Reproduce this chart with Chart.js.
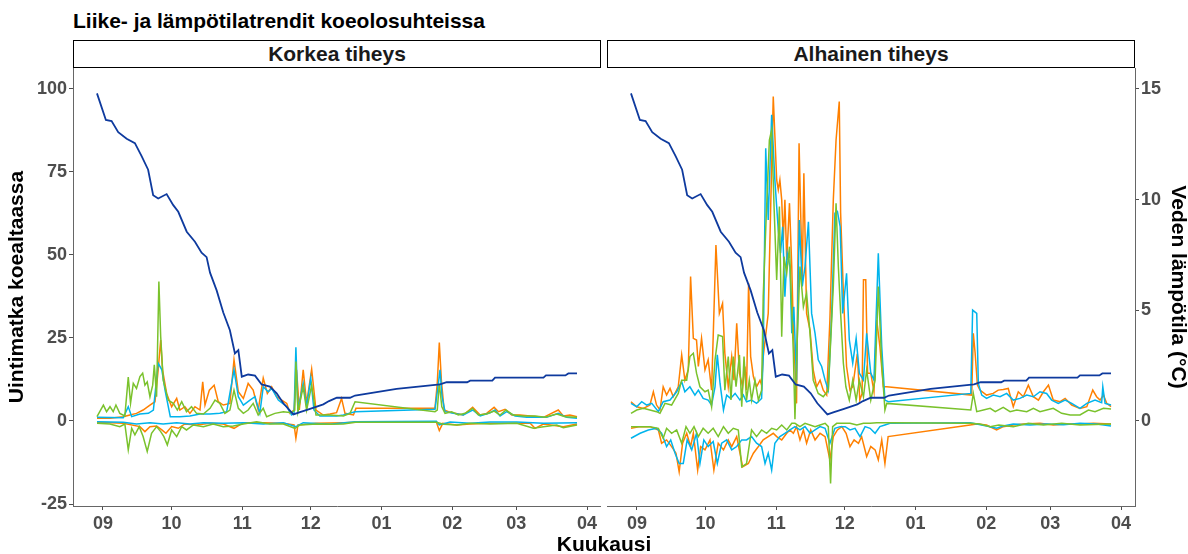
<!DOCTYPE html>
<html>
<head>
<meta charset="utf-8">
<script src="https://cdn.jsdelivr.net/npm/chart.js@4.4.1/dist/chart.umd.min.js"></script>
<style>
  body { margin: 0; background: #fff; width: 1188px; height: 554px; position: relative; overflow: hidden;
         font-family: 'Liberation Sans', Arial, sans-serif; }
  .title { position: absolute; left: 73px; top: 9px; font-size: 21px; font-weight: bold; color: #000;
           line-height: 24px; white-space: nowrap; }
  .strip { position: absolute; top: 40px; height: 28px; width: 528px; box-sizing: border-box;
           border: 1.5px solid #000; text-align: center; font-size: 21px; font-weight: bold;
           line-height: 25px; color: #1a1a1a; }
  canvas { position: absolute; top: 68px; }
  .xtitle { position: absolute; left: 504px; width: 200px; top: 532px; text-align: center;
            font-size: 21px; font-weight: bold; line-height: 24px; color: #000; }
</style>
</head>
<body>
<div class="title">Liike- ja lämpötilatrendit koeolosuhteissa</div>
<div class="strip" style="left:73px">Korkea tiheys</div>
<div class="strip" style="left:607px">Alhainen tiheys</div>
<canvas id="panelHigh" width="601" height="486" style="left:0"></canvas>
<canvas id="panelLow" width="581" height="486" style="left:607px"></canvas>
<div class="xtitle">Kuukausi</div>

<script>
/* ── Data (x = days since 1 Sep, y = distance / °C) ── */
const monthTickDays = [0, 30, 61, 91, 122, 153, 181, 212];
const monthTickLabels = ['09', '10', '11', '12', '01', '02', '03', '04'];
const leftTicks = [-25, 0, 25, 50, 75, 100];
const rightTicks = [0, 5, 10, 15];

// water temperature, same logger for both tanks
const tempC = [[-2.6,14.8],[1.3,13.6],[3.8,13.55],[6.7,13.05],[10.4,12.75],[14.0,12.55],[17.0,11.95],[19.8,11.35],
  [22.0,10.2],[24.2,10.05],[27.9,10.25],[30.8,9.75],[33.0,9.45],[36.7,8.55],[40.3,8.1],[43.2,7.6],[45.4,7.4],
  [46.9,6.7],[49.8,5.9],[52.7,4.9],[55.6,4.1],[57.8,3.05],[59.3,3.2],[60.8,2.0],[63.6,2.1],[66.6,2.05],[69.5,1.65],
  [73.1,1.55],[76.1,1.25],[79.0,0.8],[83.4,0.3],[86.3,0.4],[90.7,0.55],[96.5,0.75],[99.0,0.9],[102.4,1.05],
  [108.2,1.05],[110.4,1.15],[128.6,1.45],[147.6,1.65],[150.5,1.75],[159.5,1.75],[160.8,1.82],[170.5,1.82],
  [171.7,1.96],[192.9,1.96],[194.0,2.06],[202.5,2.06],[203.8,2.15],[207.6,2.15]];

// Korkea tiheys
const hiOrangeUp = [[-2.6,0.8],[3.1,0.8],[8.9,1.3],[11.8,1.8],[14.7,2.3],[17.6,3.3],[20.6,4.8],[22.8,5.8],[24.2,15.4],
  [25.3,24.4],[26.1,15.4],[27.9,8.3],[30.1,4.3],[32.3,6.8],[33.7,3.3],[35.9,4.3],[38.1,2.3],[40.3,4.3],[42.5,3.3],
  [43.7,11.8],[44.7,4.8],[46.6,9.3],[48.7,10.8],[50.5,5.8],[52.7,4.8],[55.6,5.3],[57.4,18.4],[59.3,8.8],[61.5,6.8],
  [63.6,11.3],[65.8,9.3],[68.0,3.3],[70.2,12.9],[72.0,8.3],[73.9,10.3],[76.1,7.3],[78.3,6.3],[80.5,5.3],[81.9,2.3],
  [83.7,3.3],[84.8,15.4],[86.0,3.3],[87.7,15.4],[89.2,5.3],[91.4,15.6],[93.3,3.3],[96.5,1.8],[99.4,2.1],[102.3,2.5],
  [104.5,6.8],[106.0,2.3],[109.7,1.8],[110.8,3.8],[145.4,3.8],[146.4,11.3],[147.3,23.6],[148.2,12.3],[149.4,3.3],
  [151.3,2.8],[154.2,2.3],[157.8,1.8],[161.9,4.1],[165.2,1.8],[168.0,2.3],[171.3,4.1],[173.2,2.8],[176.1,3.5],
  [179.0,1.8],[182.7,1.8],[187.1,1.5],[192.9,1.1],[199.4,3.3],[201.6,1.5],[204.5,1.8],[207.6,1.3]];
const hiCyanUp = [[-2.6,1.1],[8.9,1.0],[11.1,4.3],[12.6,1.3],[16.2,2.1],[19.9,2.3],[22.1,3.3],[24.2,17.4],[25.8,15.4],
  [27.2,9.3],[29.5,1.3],[33.7,1.3],[38.1,1.5],[42.5,2.1],[46.9,2.1],[51.2,2.3],[54.2,2.8],[57.4,15.4],[59.3,7.3],
  [61.5,4.8],[64.4,6.3],[66.6,7.3],[68.7,2.3],[70.2,10.3],[72.4,8.8],[73.9,9.8],[76.8,6.3],[80.5,4.3],[82.6,1.8],
  [83.7,2.3],[84.5,22.2],[85.4,3.3],[87.7,11.3],[89.2,4.3],[91.0,12.9],[92.4,3.3],[95.0,1.5],[102.4,1.5],[105.3,1.8],
  [110.4,2.8],[145.4,3.5],[146.9,11.3],[147.6,15.4],[148.5,7.3],[149.8,2.8],[153.5,2.3],[157.8,1.8],[161.9,3.3],
  [165.2,1.5],[169.5,2.5],[171.7,3.3],[173.9,1.5],[176.8,2.8],[180.5,1.5],[185.6,1.1],[190.0,1.1],[194.3,1.1],
  [199.4,2.3],[203.1,1.1],[207.6,0.8]];
const hiGreenUp = [[-2.6,1.3],[0.2,4.8],[1.6,2.8],[3.1,4.3],[4.5,2.8],[5.7,4.8],[7.4,2.3],[9.6,1.5],[11.1,13.2],
  [12.1,5.3],[13.3,11.3],[14.7,9.8],[16.2,13.4],[17.4,14.4],[18.4,10.8],[19.4,11.8],[20.6,7.3],[21.8,10.8],[22.5,16.9],
  [23.5,7.3],[24.5,42.0],[25.3,25.4],[26.4,12.3],[28.6,6.3],[30.8,5.3],[32.6,3.3],[34.5,5.8],[36.6,2.8],[38.8,4.3],
  [41.0,2.3],[44.0,2.1],[46.9,3.8],[49.1,6.3],[51.2,5.3],[53.4,2.3],[55.6,3.3],[57.4,9.3],[59.3,3.8],[61.5,2.3],
  [63.6,3.3],[65.8,5.3],[68.0,1.8],[70.2,3.8],[71.7,1.3],[75.3,2.3],[79.0,2.8],[82.6,2.5],[84.0,3.3],[84.5,17.9],
  [85.4,2.8],[87.7,10.3],[89.2,3.3],[91.4,10.8],[93.3,1.8],[99.4,1.8],[105.3,1.5],[108.2,2.3],[110.4,5.8],[145.4,2.8],
  [146.4,3.3],[147.3,11.3],[148.4,4.3],[149.8,2.3],[152.7,2.8],[155.6,1.8],[158.6,2.3],[161.9,3.8],[164.4,1.8],
  [168.0,2.1],[171.3,3.0],[173.9,1.8],[176.5,3.3],[179.7,1.8],[184.1,1.5],[189.2,1.5],[193.6,1.1],[198.7,2.1],
  [202.4,1.3],[207.6,1.1]];
const hiOrangeDown = [[-2.6,-0.4],[8.9,-0.7],[16.2,-1.7],[18.4,-3.2],[20.6,-1.7],[23.5,-1.5],[25.8,-2.7],[27.6,-3.7],
  [30.1,-1.7],[33.0,-2.2],[35.9,-0.9],[41.0,-1.2],[46.9,-0.7],[52.7,-0.9],[57.4,-2.2],[61.5,-0.5],[70.2,-0.5],
  [79.0,-0.7],[83.7,-1.2],[84.5,-5.2],[85.4,-1.2],[93.3,-0.7],[105.3,-0.5],[113.7,-0.3],[146.0,-0.3],[147.3,-2.9],
  [148.8,-0.7],[155.0,-1.2],[160.8,-0.9],[168.0,-0.7],[175.4,-0.7],[187.1,-0.7],[189.2,-2.2],[192.9,-0.9],
  [201.6,-1.7],[207.6,-0.9]];
const hiCyanDown = [[-2.6,-0.2],[8.9,-0.4],[14.7,-0.9],[20.6,-0.5],[26.4,-0.9],[32.3,-0.5],[38.1,-0.9],[44.0,-0.5],
  [52.7,-0.7],[61.5,-0.5],[70.2,-0.9],[79.0,-0.5],[84.5,-1.7],[87.7,-0.5],[99.4,-1.0],[110.4,-0.2],[146.0,-0.1],
  [147.3,-1.2],[152.0,-0.3],[160.8,-0.7],[169.5,-0.3],[181.2,-0.3],[192.9,-0.7],[207.6,-0.5]];
const hiGreenDown = [[-2.6,-0.7],[3.1,-0.9],[7.4,-1.7],[9.6,-0.9],[11.1,-8.7],[12.6,-2.2],[14.0,-4.2],[15.9,-1.7],
  [17.6,-4.7],[19.4,-9.2],[21.3,-3.7],[23.5,-1.7],[25.3,-3.2],[26.7,-4.7],[28.2,-7.2],[30.1,-2.7],[32.3,-4.7],
  [34.5,-1.7],[36.6,-2.7],[39.6,-1.2],[44.0,-1.7],[48.3,-0.9],[52.7,-1.7],[57.1,-1.5],[61.5,-0.9],[67.3,-0.2],
  [73.1,-0.9],[79.0,-0.9],[84.1,-2.2],[86.3,-1.2],[93.6,-0.9],[99.4,-1.0],[105.3,-0.9],[110.4,-0.4],[146.0,-0.4],
  [149.2,-1.0],[155.0,-1.2],[160.8,-0.7],[169.5,-0.9],[181.2,-0.7],[188.5,-2.2],[192.9,-1.7],[198.7,-1.2],
  [201.6,-2.0],[207.6,-1.2]];

// Alhainen tiheys
const loOrangeUp = [[-2.6,5.8],[-0.1,4.3],[2.8,3.8],[5.7,4.8],[7.2,8.8],[8.6,4.8],[10.1,3.3],[11.5,10.3],[13.0,7.8],
  [14.5,9.8],[15.9,7.3],[18.1,10.3],[19.6,19.9],[21.0,12.3],[22.5,15.4],[23.5,43.5],[24.7,24.9],[26.1,24.4],
  [26.9,16.4],[28.3,24.9],[29.8,15.4],[31.2,18.4],[32.7,9.3],[34.6,53.0],[36.1,32.4],[37.5,35.4],[38.5,20.4],
  [40.0,10.3],[41.5,19.4],[42.5,12.3],[43.7,29.4],[44.9,14.4],[46.3,10.3],[47.3,16.4],[48.0,9.3],[48.9,41.5],
  [49.8,19.4],[51.0,13.4],[52.4,10.3],[53.9,12.3],[54.6,10.8],[55.3,19.4],[57.5,32.4],[59.7,97.7],[61.2,72.6],
  [61.9,69.6],[62.6,72.6],[63.4,66.6],[64.1,54.5],[64.8,66.6],[65.6,48.5],[66.8,65.6],[67.8,46.5],[68.5,27.4],
  [69.9,5.3],[71.0,83.6],[72.4,42.5],[73.1,74.6],[74.3,32.4],[75.8,27.4],[77.2,15.4],[78.7,10.3],[80.2,12.3],
  [81.6,9.3],[83.1,7.8],[84.5,30.4],[86.0,66.6],[87.2,84.6],[88.6,96.2],[89.2,62.6],[90.4,38.5],[91.8,16.4],
  [93.3,9.3],[94.5,10.3],[96.5,20.2],[97.6,6.3],[98.6,8.3],[99.2,42.5],[100.2,42.5],[101.0,14.4],[102.4,14.4],
  [103.8,8.8],[105.0,30.4],[106.4,22.4],[107.9,10.3],[109.4,10.3],[146.6,7.8],[147.3,26.4],[148.1,20.4],[149.1,10.8],
  [150.2,9.3],[153.1,7.8],[156.0,8.3],[158.2,9.3],[160.4,9.5],[162.6,9.8],[164.8,4.3],[167.0,8.8],[169.2,7.3],
  [171.4,10.8],[173.6,7.3],[175.8,6.3],[178.0,8.8],[180.2,10.8],[182.3,6.3],[185.3,5.8],[187.5,6.8],[190.4,4.8],
  [194.0,3.8],[197.0,4.3],[199.6,9.3],[201.3,7.3],[202.8,6.3],[204.3,7.8],[205.7,5.3],[207.6,4.3]];
const loCyanUp = [[-2.6,5.3],[-0.1,4.3],[2.1,5.8],[4.3,4.8],[6.5,5.3],[9.4,2.8],[11.5,5.8],[14.5,6.3],[17.4,8.8],
  [19.6,11.8],[21.0,8.8],[23.2,10.3],[25.4,7.8],[26.9,9.3],[29.0,6.8],[31.2,6.3],[32.7,4.8],[34.2,10.3],[35.2,19.9],
  [36.4,11.3],[37.9,3.3],[39.3,7.8],[41.0,6.8],[43.0,8.3],[45.1,6.3],[46.6,7.8],[48.0,5.8],[50.2,6.3],[52.4,5.3],
  [54.6,6.8],[55.3,19.4],[56.4,82.1],[57.5,60.5],[59.0,92.2],[60.4,72.6],[61.9,57.5],[62.9,50.5],[63.8,58.5],
  [64.8,37.4],[65.8,50.5],[67.0,46.5],[67.8,26.4],[68.7,34.4],[69.9,12.3],[71.1,60.5],[72.4,40.5],[73.6,46.5],
  [75.1,60.0],[76.5,32.4],[78.0,26.4],[79.4,18.4],[80.9,16.4],[82.4,12.3],[83.8,9.3],[85.3,32.4],[86.7,62.6],
  [87.8,63.1],[89.0,58.5],[90.1,32.4],[91.8,44.5],[93.0,24.4],[94.5,17.4],[96.0,24.9],[97.4,14.4],[99.2,12.3],
  [100.6,26.4],[102.4,14.4],[103.8,12.3],[105.7,50.5],[107.2,22.4],[108.6,6.3],[110.1,5.8],[146.2,8.3],[147.0,33.4],
  [148.8,32.4],[149.5,11.3],[151.0,7.8],[153.1,6.8],[156.0,7.8],[159.0,7.3],[161.9,8.3],[164.8,6.3],[167.7,6.8],
  [170.7,7.8],[173.6,7.3],[176.5,8.8],[179.4,8.3],[181.6,6.3],[184.5,5.3],[187.5,6.3],[190.4,5.3],[194.0,3.8],
  [197.0,5.3],[200.6,6.3],[203.5,5.5],[204.0,10.3],[205.0,5.3],[207.6,4.8]];
const loGreenUp = [[-2.6,2.3],[-0.1,3.3],[2.8,3.8],[5.7,3.3],[8.6,2.8],[10.1,2.3],[12.3,5.3],[15.2,4.8],[18.1,8.3],
  [19.6,12.3],[21.8,12.3],[23.2,19.4],[24.7,20.4],[26.1,14.4],[27.6,10.3],[29.8,8.8],[31.2,9.3],[32.7,4.3],[34.2,18.4],
  [35.6,25.9],[37.5,25.4],[38.5,9.3],[40.0,19.4],[41.2,6.3],[42.2,19.4],[43.4,10.3],[44.9,19.9],[45.9,4.3],[46.9,19.4],
  [48.0,6.3],[49.2,12.3],[50.2,6.3],[51.7,12.3],[53.2,6.3],[54.6,9.3],[55.3,37.5],[56.5,59.5],[58.0,84.6],[59.0,87.7],
  [60.0,65.6],[61.2,42.5],[62.4,64.6],[63.4,25.4],[64.4,49.5],[65.6,44.5],[66.8,52.5],[67.8,33.4],[68.5,20.4],
  [69.2,0.5],[70.2,24.4],[71.4,46.5],[72.9,34.4],[74.3,38.5],[75.8,26.4],[77.2,12.3],[79.4,8.3],[81.6,7.3],[83.8,9.3],
  [86.0,40.5],[87.2,65.6],[88.2,46.5],[89.2,32.4],[90.4,17.4],[91.5,10.3],[93.0,6.3],[94.5,12.3],[96.0,6.3],
  [97.4,12.3],[99.2,7.3],[100.6,15.4],[102.4,6.3],[104.3,12.3],[105.7,40.5],[107.2,17.4],[108.6,3.3],[109.4,5.3],
  [146.2,3.3],[147.3,8.3],[148.8,2.8],[151.7,3.3],[154.7,3.8],[156.9,2.8],[160.4,4.1],[163.4,2.8],[166.3,3.3],
  [170.7,2.8],[173.6,3.8],[176.5,2.8],[179.4,3.3],[182.3,3.8],[186.0,2.3],[189.7,1.8],[194.0,1.8],[197.7,3.3],
  [200.6,2.8],[204.3,3.8],[207.6,3.6]];
const loOrangeDown = [[-2.6,-2.2],[1.4,-1.7],[5.7,-1.7],[9.4,-2.7],[10.8,-6.7],[13.0,-5.7],[15.2,-7.7],[17.1,-9.7],
  [18.5,-15.3],[20.0,-6.7],[21.8,-3.7],[23.5,-7.7],[24.7,-3.7],[26.6,-14.8],[27.9,-7.7],[29.8,-8.7],[32.0,-5.7],
  [33.7,-14.8],[35.6,-6.7],[37.9,-8.7],[40.0,-5.7],[41.5,-7.7],[43.7,-4.7],[46.3,-13.8],[48.8,-12.8],[51.0,-9.7],
  [53.2,-7.7],[55.3,-5.7],[57.5,-4.7],[59.7,-3.7],[61.2,-4.7],[63.4,-5.7],[65.6,-3.7],[67.0,-2.7],[68.5,-3.7],
  [69.9,-1.7],[71.4,-5.7],[72.9,-2.7],[74.3,-6.7],[76.1,-2.7],[78.0,-5.7],[80.2,-3.7],[82.4,-4.7],[84.5,-11.7],
  [86.0,-4.7],[87.8,-2.7],[89.7,-1.7],[91.6,-3.7],[93.3,-7.7],[95.1,-5.7],[97.0,-6.7],[98.4,-4.7],[100.6,-10.7],
  [102.4,-7.7],[104.3,-8.7],[105.7,-11.7],[107.2,-5.7],[108.6,-12.8],[110.0,-4.7],[145.9,-1.2],[148.8,-0.9],
  [153.1,-1.2],[157.5,-2.7],[160.4,-1.7],[164.8,-1.2],[169.2,-0.9],[176.5,-0.7],[182.3,-1.2],[188.2,-0.9],
  [194.0,-0.9],[199.9,-0.7],[207.6,-0.9]];
const loCyanDown = [[-2.6,-5.2],[1.4,-3.7],[5.0,-2.7],[8.6,-2.2],[10.8,-3.7],[13.0,-7.7],[14.8,-5.7],[16.7,-9.7],
  [18.5,-12.8],[20.3,-12.8],[22.0,-5.7],[24.0,-8.7],[26.1,-3.7],[27.6,-12.8],[29.3,-5.7],[31.2,-7.7],[33.4,-6.2],
  [35.2,-12.8],[37.1,-6.7],[39.3,-5.7],[41.5,-8.7],[43.7,-7.7],[45.9,-5.7],[48.0,-5.7],[50.2,-4.7],[52.4,-6.7],
  [54.6,-7.7],[56.1,-12.8],[57.5,-9.7],[59.0,-14.8],[60.4,-6.7],[62.6,-4.7],[64.8,-3.7],[67.0,-2.7],[69.2,-1.7],
  [71.4,-2.7],[73.6,-1.7],[75.8,-3.7],[78.0,-2.7],[80.2,-1.7],[82.4,-2.2],[84.5,-6.7],[86.7,-2.2],[89.0,-1.7],
  [91.2,-1.7],[93.3,-2.7],[95.5,-2.2],[97.7,-4.7],[99.9,-1.7],[102.1,-2.2],[104.3,-3.7],[106.4,-1.7],[108.6,-1.2],
  [110.8,-0.7],[146.0,-0.5],[148.8,-0.9],[153.1,-1.5],[157.5,-2.2],[160.4,-1.5],[164.8,-0.9],[172.1,-1.2],
  [179.4,-0.9],[186.8,-1.1],[194.0,-0.7],[201.3,-0.9],[207.6,-1.5]];
const loGreenDown = [[-2.6,-1.7],[2.1,-1.7],[5.7,-1.7],[9.4,-2.2],[11.5,-5.2],[13.0,-2.2],[15.2,-3.7],[17.4,-2.7],
  [19.6,-6.7],[21.5,-1.7],[23.2,-3.7],[25.0,-1.7],[26.9,-4.7],[29.0,-2.2],[31.2,-3.7],[33.4,-2.2],[35.6,-4.7],
  [37.9,-1.7],[40.0,-3.7],[42.2,-2.2],[44.4,-2.7],[45.9,-13.8],[48.0,-12.8],[50.2,-2.7],[52.4,-4.7],[54.6,-2.7],
  [56.8,-3.7],[59.0,-2.2],[61.2,-2.7],[63.4,-1.2],[65.6,-2.7],[67.8,-0.7],[69.2,-0.7],[71.4,-1.7],[73.6,-0.7],
  [75.8,-1.2],[78.0,-1.7],[80.2,-1.2],[82.4,-0.7],[83.8,-1.7],[84.8,-18.8],[85.7,-1.7],[87.5,-0.7],[90.4,-0.7],
  [93.3,-0.7],[96.3,-1.2],[99.2,-0.7],[102.1,-0.7],[105.0,-0.5],[110.8,-0.5],[146.0,-0.7],[150.2,-0.9],[154.7,-1.7],
  [158.5,-1.2],[164.8,-1.7],[171.4,-0.7],[178.0,-1.2],[186.0,-0.7],[194.0,-1.2],[207.6,-0.9]];

/* ── Axis ranges ── */
const X_MIN = -13.1, X_MAX = 218.1;
const Y_MIN = -25.6, Y_MAX = 106.3;
const TEMP_SCALE = 100 / 15;   // 15 °C sits at 100 on the left axis

const COLORS = { orange: '#ff8000', cyan: '#00b4ec', green: '#7ac22c', temp: '#0e3a9e' };
const TICK_COLOR = '#4d4d4d';
const LINE_COLOR = '#666666';
const tickFont = { family: "'Liberation Sans', Arial, sans-serif", size: 18, weight: 'bold' };
const titleFont = { family: "'Liberation Sans', Arial, sans-serif", size: 21, weight: 'bold', lineHeight: 1 };

document.addEventListener('DOMContentLoaded', () => {
    buildPanel('panelHigh', [hiOrangeUp, hiCyanUp, hiGreenUp], [hiOrangeDown, hiCyanDown, hiGreenDown], true);
    buildPanel('panelLow', [loOrangeUp, loCyanUp, loGreenUp], [loOrangeDown, loCyanDown, loGreenDown], false);
});

function toPoints(series) {
    return series.map(([x, y]) => ({ x: x, y: y }));
}

function lineSet(series, color, width, axis) {
    return {
        data: toPoints(series),
        borderColor: color,
        borderWidth: width,
        pointRadius: 0,
        tension: 0,
        fill: false,
        yAxisID: axis
    };
}

// pin the axis box size so the plot area lands where the reference has it
function pinWidth(w) {
    return (s) => {
        if (s.options.display) s.width = w;
        s.paddingTop = 0;
        s.paddingBottom = 0;
    };
}

function buildPanel(id, up, down, isLeftPanel) {
    const ctx = document.getElementById(id);
    const [orUp, cyUp, grUp] = up;
    const [orDn, cyDn, grDn] = down;

    // first dataset is painted last (on top)
    const datasets = [
        lineSet(tempC, COLORS.temp, 1.8, 'y2'),
        lineSet(grUp, COLORS.green, 1.5, 'y'),
        lineSet(grDn, COLORS.green, 1.5, 'y'),
        lineSet(cyUp, COLORS.cyan, 1.5, 'y'),
        lineSet(cyDn, COLORS.cyan, 1.5, 'y'),
        lineSet(orUp, COLORS.orange, 1.5, 'y'),
        lineSet(orDn, COLORS.orange, 1.5, 'y')
    ];

    new Chart(ctx, {
        type: 'line',
        data: { datasets: datasets },
        options: {
            responsive: false,
            animation: false,
            layout: { padding: 0 },
            plugins: { legend: { display: false }, tooltip: { enabled: false } },
            scales: {
                x: {
                    type: 'linear',
                    min: X_MIN,
                    max: X_MAX,
                    afterBuildTicks: (s) => { s.ticks = monthTickDays.map(v => ({ value: v })); },
                    afterFit: (s) => { s.height = 48; s.paddingLeft = 0; s.paddingRight = 0; },
                    ticks: {
                        autoSkip: false,
                        maxRotation: 0,
                        padding: 3,
                        color: TICK_COLOR,
                        font: tickFont,
                        callback: (v, i) => monthTickLabels[i]
                    },
                    grid: { drawOnChartArea: false, drawTicks: true, tickLength: 4, color: TICK_COLOR },
                    border: { display: true, color: LINE_COLOR, width: 1 }
                },
                y: {
                    position: 'left',
                    display: isLeftPanel,
                    min: Y_MIN,
                    max: Y_MAX,
                    afterBuildTicks: (s) => { s.ticks = leftTicks.map(v => ({ value: v })); },
                    afterFit: pinWidth(73),
                    ticks: {
                        padding: 2,
                        color: TICK_COLOR,
                        font: tickFont,
                        callback: (v, i) => String(leftTicks[i])
                    },
                    grid: { drawOnChartArea: false, drawTicks: true, tickLength: 4, color: TICK_COLOR },
                    border: { display: true, color: LINE_COLOR, width: 1 },
                    title: {
                        display: true,
                        text: 'Uintimatka koealtaassa',
                        color: '#000',
                        font: titleFont,
                        padding: { top: 7, bottom: 0 }
                    }
                },
                y2: {
                    position: 'right',
                    display: !isLeftPanel,
                    min: Y_MIN / TEMP_SCALE,
                    max: Y_MAX / TEMP_SCALE,
                    afterBuildTicks: (s) => { s.ticks = rightTicks.map(v => ({ value: v })); },
                    afterFit: pinWidth(53),
                    ticks: {
                        padding: 2,
                        color: TICK_COLOR,
                        font: tickFont,
                        callback: (v, i) => String(rightTicks[i])
                    },
                    grid: { drawOnChartArea: false, drawTicks: true, tickLength: 4, color: TICK_COLOR },
                    border: { display: true, color: LINE_COLOR, width: 1 },
                    title: {
                        display: true,
                        text: 'Veden lämpötila (°C)',
                        color: '#000',
                        font: titleFont,
                        padding: { top: 0, bottom: 0 }
                    }
                }
            }
        }
    });
}
</script>
</body>
</html>
